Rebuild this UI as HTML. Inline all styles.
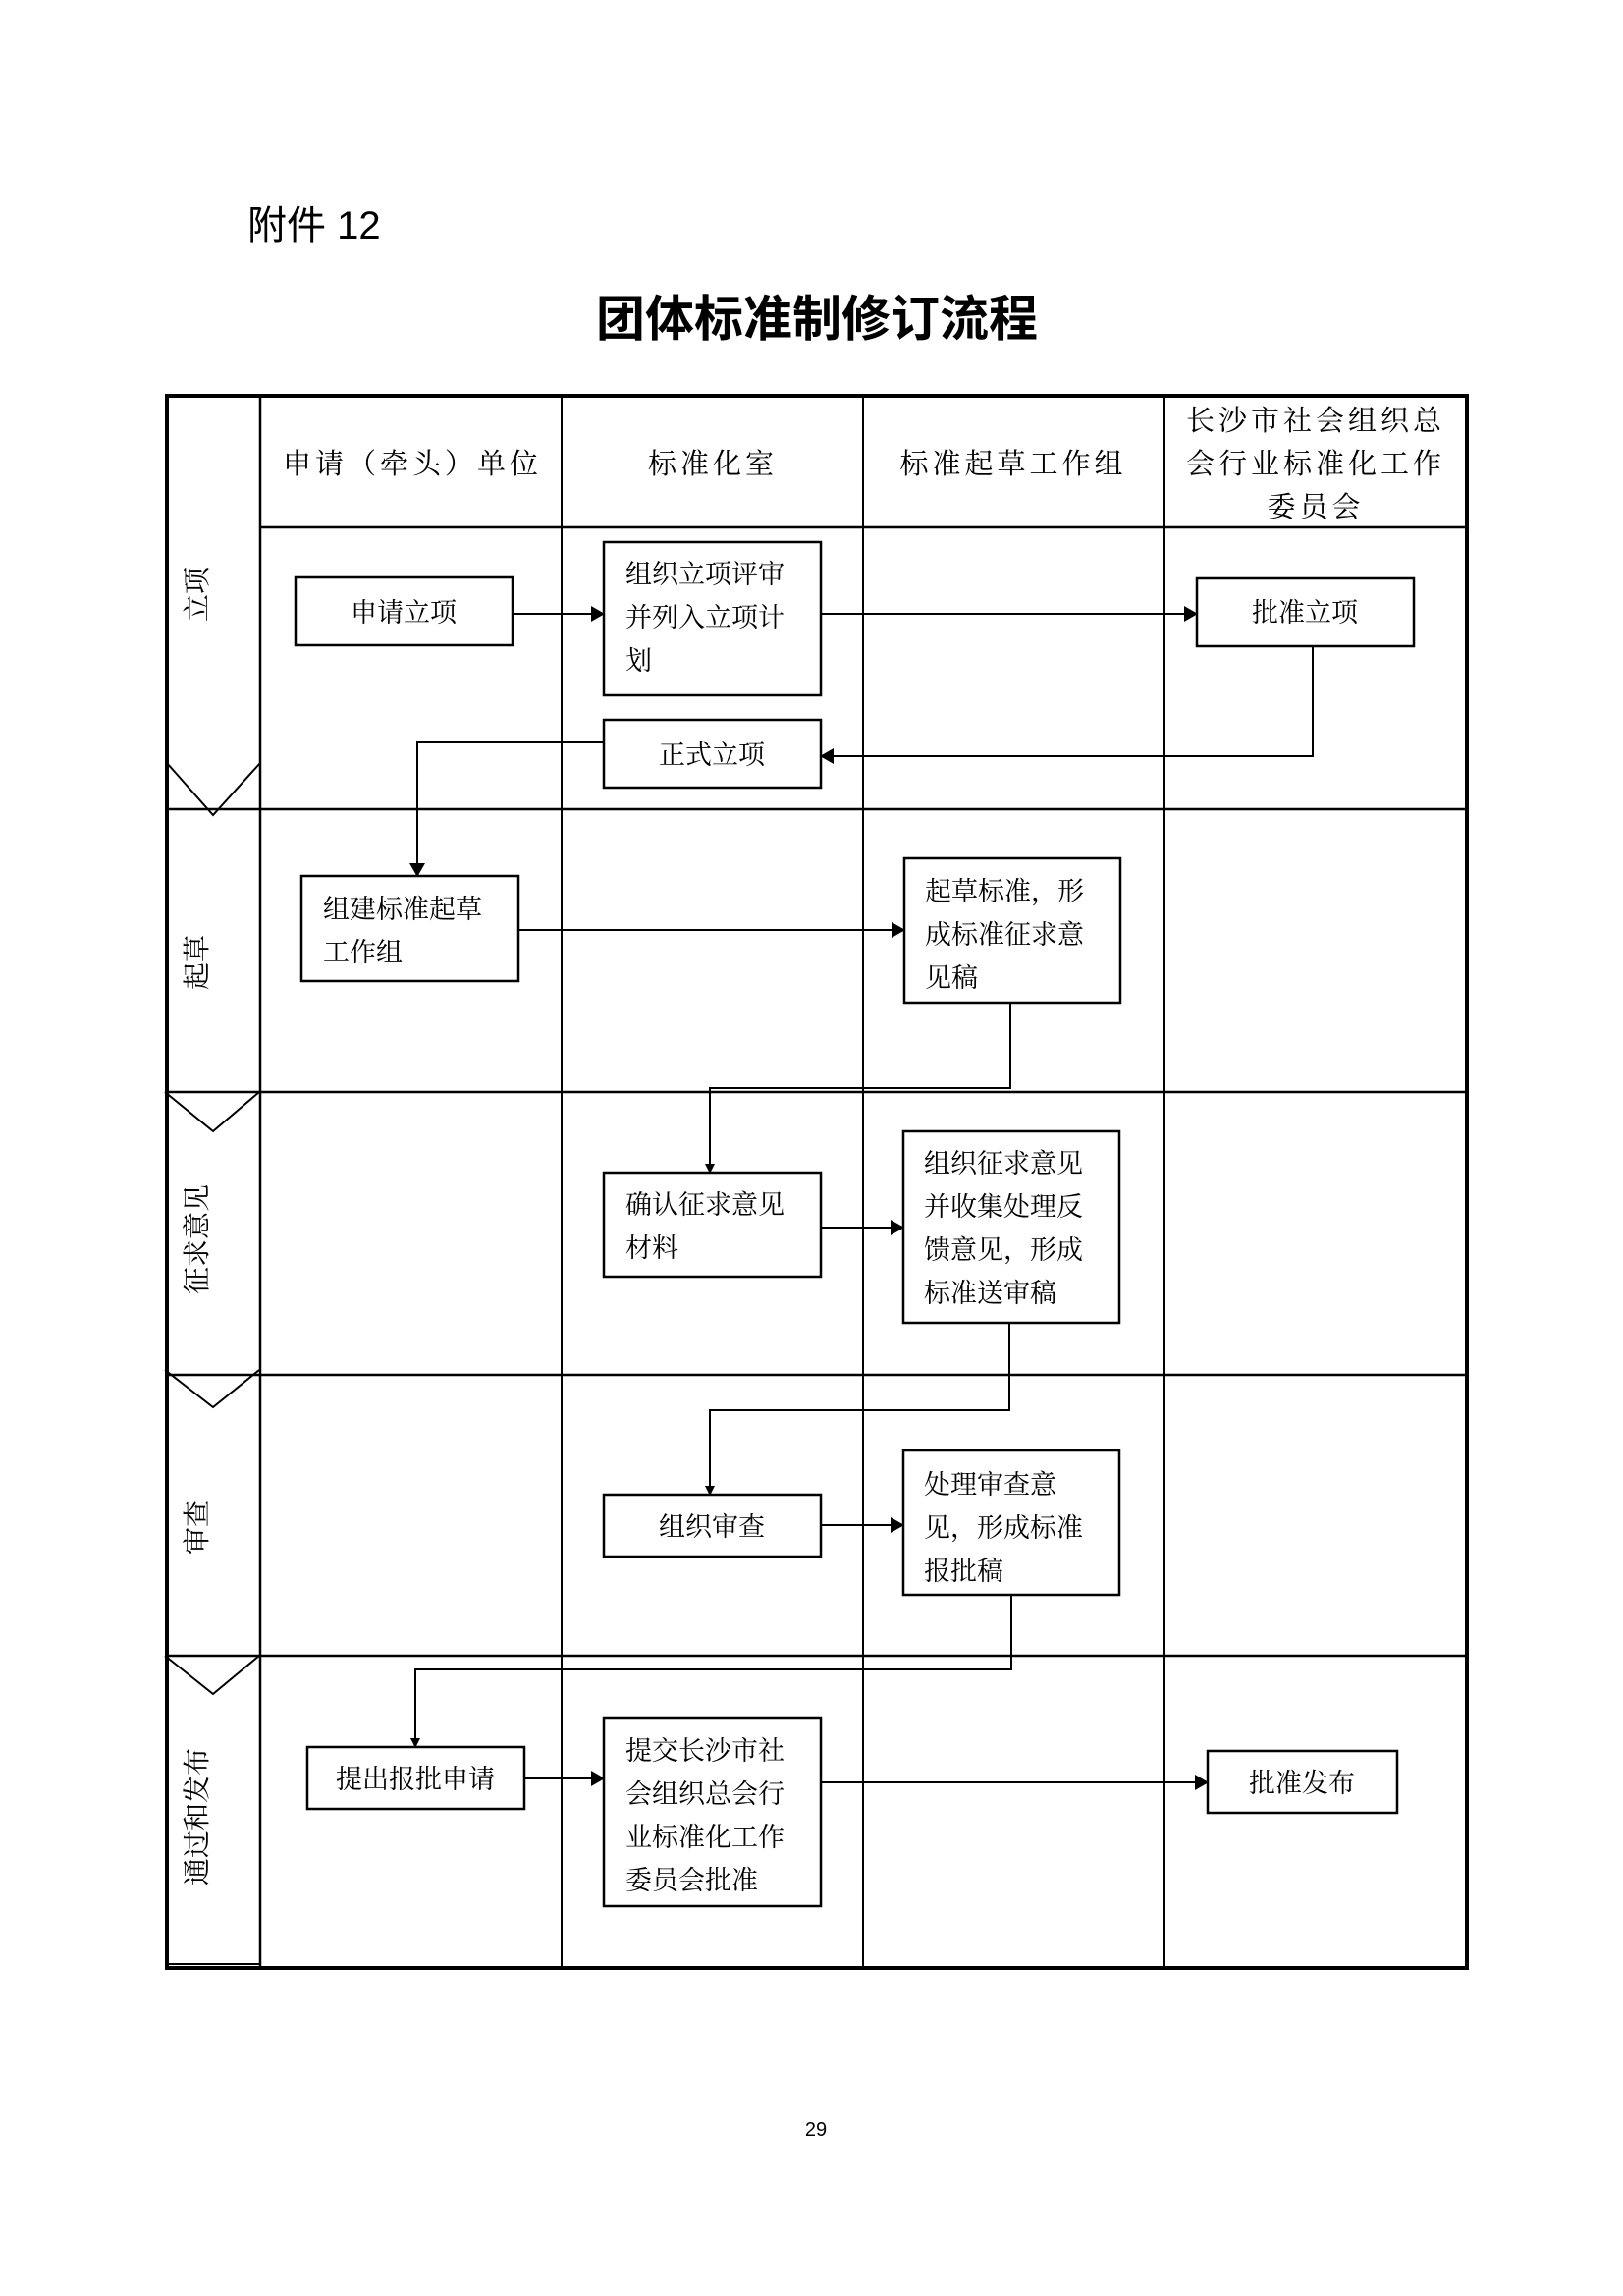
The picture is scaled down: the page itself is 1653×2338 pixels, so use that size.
<!DOCTYPE html>
<html><head><meta charset="utf-8"><style>
html,body{margin:0;padding:0;background:#fff}
svg{display:block}
.s{font-family:"Liberation Serif","Noto Serif CJK SC",serif;fill:#000}
</style></head><body>
<svg width="1653" height="2338" viewBox="0 0 1653 2338" xmlns="http://www.w3.org/2000/svg">
<defs>
<marker id="a" markerWidth="10" markerHeight="10" refX="9" refY="5" orient="auto" markerUnits="userSpaceOnUse"><path d="M0,0 L10,5 L0,10 z" fill="#000"/></marker>
<marker id="b" markerWidth="14" markerHeight="16" refX="13" refY="8" orient="auto" markerUnits="userSpaceOnUse"><path d="M0,0 L14,8 L0,16 z" fill="#000"/></marker>
</defs>
<text x="252" y="243" font-family="'Liberation Sans','Noto Sans CJK SC',sans-serif" font-size="40">附件 12</text>
<text x="832" y="342" text-anchor="middle" font-family="'Liberation Sans','Noto Sans CJK SC',sans-serif" font-size="50" font-weight="bold">团体标准制修订流程</text>

<g stroke="#000" fill="none">
<rect x="170" y="403" width="1324" height="1601" stroke-width="4"/>
<line x1="265" y1="403" x2="265" y2="2004" stroke-width="2.5"/>
<line x1="572" y1="403" x2="572" y2="2004" stroke-width="2"/>
<line x1="879" y1="403" x2="879" y2="2004" stroke-width="2"/>
<line x1="1186" y1="403" x2="1186" y2="2004" stroke-width="2"/>
<line x1="265" y1="537" x2="1494" y2="537" stroke-width="2.5"/>
<line x1="170" y1="824" x2="1494" y2="824" stroke-width="2.5"/>
<line x1="170" y1="1112" x2="1494" y2="1112" stroke-width="2.5"/>
<line x1="170" y1="1400" x2="1494" y2="1400" stroke-width="2.5"/>
<line x1="170" y1="1686" x2="1494" y2="1686" stroke-width="2.5"/>
<line x1="170" y1="2000" x2="265" y2="2000" stroke-width="2"/>
<!-- phase chevrons -->
<polyline points="170,777 217,830 265,777" stroke-width="2"/>
<polyline points="168,1112 217,1152 264,1112" stroke-width="2"/>
<polyline points="168,1395 217,1433 264,1395" stroke-width="2"/>
<polyline points="168,1686 217,1725 264,1686" stroke-width="2"/>

<!-- boxes -->
<g stroke-width="2.5">
<rect x="301" y="588" width="221" height="69"/>
<rect x="615" y="552" width="221" height="156"/>
<rect x="615" y="733" width="221" height="69"/>
<rect x="1219" y="589" width="221" height="69"/>
<rect x="307" y="892" width="221" height="107"/>
<rect x="921" y="874" width="220" height="147"/>
<rect x="615" y="1194" width="221" height="106"/>
<rect x="920" y="1152" width="220" height="195"/>
<rect x="615" y="1522" width="221" height="63"/>
<rect x="920" y="1477" width="220" height="147"/>
<rect x="313" y="1779" width="221" height="63"/>
<rect x="615" y="1749" width="221" height="192"/>
<rect x="1230" y="1783" width="193" height="63"/>
</g>

<!-- connectors -->
<g stroke-width="2">
<line x1="522" y1="625" x2="615" y2="625" marker-end="url(#b)"/>
<line x1="836" y1="625" x2="1219" y2="625" marker-end="url(#b)"/>
<polyline points="1337,658 1337,770 836,770" marker-end="url(#b)"/>
<polyline points="615,756 425,756 425,892" marker-end="url(#b)"/>
<line x1="528" y1="947" x2="921" y2="947" marker-end="url(#b)"/>
<polyline points="1029,1021 1029,1108 723,1108 723,1194" marker-end="url(#a)"/>
<line x1="836" y1="1250" x2="920" y2="1250" marker-end="url(#b)"/>
<polyline points="1028,1347 1028,1436 723,1436 723,1522" marker-end="url(#a)"/>
<line x1="836" y1="1553" x2="920" y2="1553" marker-end="url(#b)"/>
<polyline points="1030,1624 1030,1700 423,1700 423,1779" marker-end="url(#a)"/>
<line x1="534" y1="1811" x2="615" y2="1811" marker-end="url(#b)"/>
<line x1="836" y1="1815" x2="1230" y2="1815" marker-end="url(#b)"/>
</g>
</g>

<!-- headers -->
<g class="s" font-size="29" text-anchor="middle" letter-spacing="4">
<text x="420" y="482">申请（牵头）单位</text>
<text x="726" y="482">标准化室</text>
<text x="1032" y="482">标准起草工作组</text>
<text x="1340" y="438">长沙市社会组织总</text>
<text x="1340" y="482">会行业标准化工作</text>
<text x="1340" y="526">委员会</text>
</g>

<!-- phase labels -->
<g class="s" font-size="28" text-anchor="middle">
<text transform="translate(210,605) rotate(-90)">立项</text>
<text transform="translate(210,980) rotate(-90)">起草</text>
<text transform="translate(210,1262) rotate(-90)">征求意见</text>
<text transform="translate(210,1555) rotate(-90)">审查</text>
<text transform="translate(210,1850) rotate(-90)">通过和发布</text>
</g>

<!-- node text -->
<g class="s" font-size="27">
<text x="411" y="633" text-anchor="middle">申请立项</text>
<text x="637" y="594">组织立项评审</text>
<text x="637" y="638">并列入立项计</text>
<text x="637" y="682">划</text>
<text x="725" y="778" text-anchor="middle">正式立项</text>
<text x="1329" y="633" text-anchor="middle">批准立项</text>
<text x="329" y="935">组建标准起草</text>
<text x="329" y="979">工作组</text>
<text x="942" y="917">起草标准，形</text>
<text x="942" y="961">成标准征求意</text>
<text x="942" y="1005">见稿</text>
<text x="637" y="1236">确认征求意见</text>
<text x="637" y="1280">材料</text>
<text x="941" y="1194">组织征求意见</text>
<text x="941" y="1238">并收集处理反</text>
<text x="941" y="1282">馈意见，形成</text>
<text x="941" y="1326">标准送审稿</text>
<text x="725" y="1564" text-anchor="middle">组织审查</text>
<text x="941" y="1521">处理审查意</text>
<text x="941" y="1565">见，形成标准</text>
<text x="941" y="1609">报批稿</text>
<text x="423" y="1821" text-anchor="middle">提出报批申请</text>
<text x="637" y="1792">提交长沙市社</text>
<text x="637" y="1836">会组织总会行</text>
<text x="637" y="1880">业标准化工作</text>
<text x="637" y="1924">委员会批准</text>
<text x="1326" y="1825" text-anchor="middle">批准发布</text>
</g>
<text x="831" y="2175" text-anchor="middle" font-family="'Liberation Sans',sans-serif" font-size="20">29</text>
</svg>
</body></html>
